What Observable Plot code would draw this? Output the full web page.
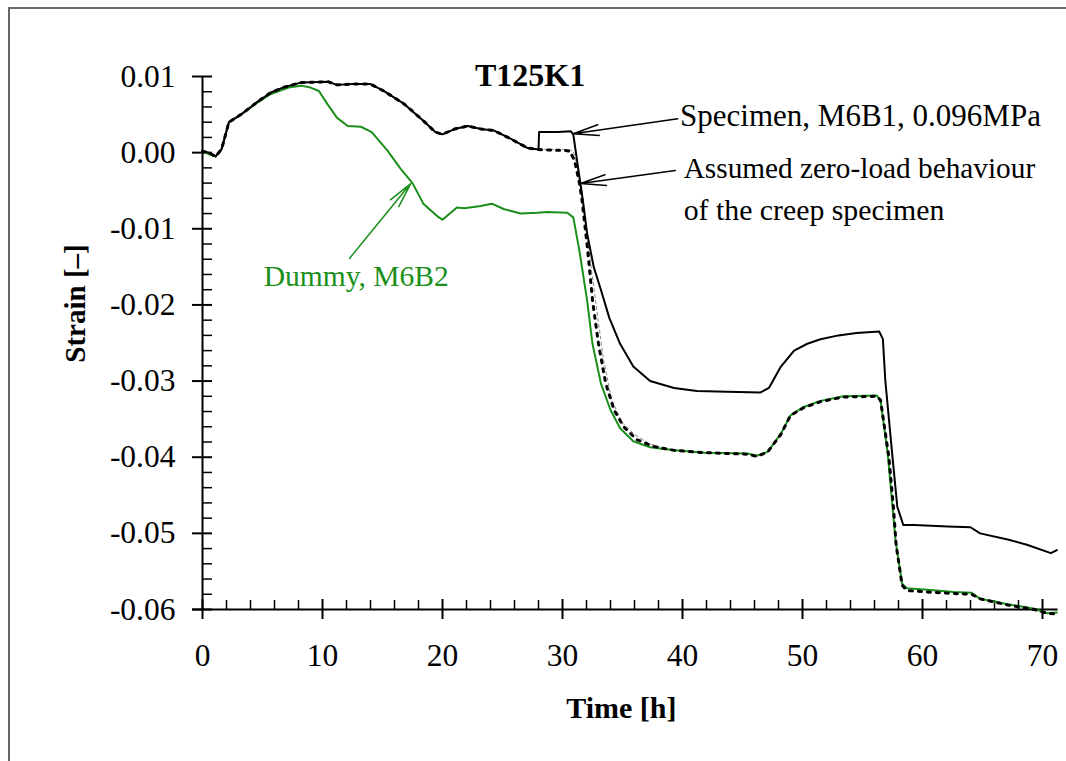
<!DOCTYPE html>
<html>
<head>
<meta charset="utf-8">
<script src="https://cdn.jsdelivr.net/npm/d3@7"></script>
<script src="https://cdn.jsdelivr.net/npm/@observablehq/plot@0.6"></script>
<style>
  html, body { margin: 0; padding: 0; background: #fff; overflow: hidden; width: 1066px; height: 761px; }
  #wrap { position: relative; width: 1066px; height: 761px; }
  #frameTop { position: absolute; left: 8px; top: 7px; width: 1058px; height: 2px; background: #666; }
  #frameLeft { position: absolute; left: 8px; top: 7px; width: 2px; height: 754px; background: #666; }
  #chart { position: absolute; left: 0; top: 0; }
</style>
</head>
<body>
<div id="wrap"><div id="frameTop"></div><div id="frameLeft"></div><div id="chart"></div></div>
<script>
// ---- Specimen, M6B1 (black solid) ----
const specimenTime = [0,0.5,1.1,1.6,2.2,3.2,4.6,5.7,6.8,8.2,10.5,11.2,12.5,14.0,15.1,16.8,18.4,19.4,20.0,21.0,22.1,23.2,24.3,25.7,27.1,28.0,
  28.05,29.6,30.7,30.9,31.3,31.7,32.05,32.6,33.2,33.9,34.8,35.9,37.3,39.3,41.2,43.7,46.5,47.2,48.2,49.3,50.4,51.5,53.0,54.5,56.4,56.7,56.9,57.5,57.9,58.4,59.3,62.1,64.0,64.8,67.1,68.7,70.7,71.2];
const specimenStrain = [0.0002,0.0000,-0.0005,0.0005,0.0040,0.0050,0.0067,0.0079,0.0086,0.0092,0.0093,0.0089,0.0090,0.0090,0.0081,0.0064,0.0042,0.0027,0.0024,0.0031,0.0035,0.0031,0.0029,0.0018,0.0006,0.0004,
  0.0027,0.0027,0.0028,0.0024,-0.0020,-0.0063,-0.0106,-0.0150,-0.0180,-0.0217,-0.0251,-0.0281,-0.0300,-0.0309,-0.0313,-0.0314,-0.0315,-0.0309,-0.0281,-0.0260,-0.0251,-0.0245,-0.0240,-0.0237,-0.0235,-0.0245,-0.0299,-0.0400,-0.0465,-0.0489,-0.0489,-0.0491,-0.0492,-0.0500,-0.0508,-0.0515,-0.0526,-0.0522];

// ---- Dummy, M6B2 (green solid) ----
const dummyTime = [0,0.5,1.1,1.6,2.2,3.2,4.6,5.7,7.3,8.2,8.9,9.7,10.4,11.2,12.1,13.2,14.1,15.4,16.5,17.5,18.4,19.6,20.0,21.2,21.8,23.2,24.1,25.1,26.5,27.9,28.7,30.4,30.9,31.4,32.05,32.5,33.2,34.0,34.8,35.9,37.3,39.3,41.8,45.4,46.2,47.1,48.2,49.0,50.1,51.5,53.4,56.2,56.5,57.1,57.5,57.75,58.3,58.7,60.4,62.6,64.1,64.8,67.1,69.3,70.4,71.2];
const dummyStrain = [0.0002,-0.0002,-0.0005,0.0005,0.0040,0.0050,0.0066,0.0077,0.0086,0.0088,0.0086,0.0081,0.0064,0.0046,0.0035,0.0034,0.0027,0.0003,-0.0021,-0.0040,-0.0067,-0.0084,-0.0088,-0.0072,-0.0073,-0.0070,-0.0067,-0.0074,-0.0080,-0.0079,-0.0078,-0.0079,-0.0085,-0.0128,-0.0194,-0.0251,-0.0303,-0.0338,-0.0362,-0.0379,-0.0387,-0.0391,-0.0394,-0.0395,-0.0398,-0.0393,-0.0369,-0.0345,-0.0334,-0.0326,-0.0320,-0.0319,-0.0325,-0.0395,-0.0465,-0.0509,-0.0566,-0.0572,-0.0574,-0.0577,-0.0578,-0.0586,-0.0593,-0.0599,-0.0605,-0.0604];

// ---- Assumed zero-load behaviour (black dotted), after load step at 28 h ----
const assumedTime = [28.0,29.5,30.1,30.6,31.0,31.4,31.6,32.1,32.5,33.0,33.6,34.3,35.1,36.2,37.6,39.3,41.8,45.4,46.2,47.1,48.2,49.0,50.1,51.5,53.4,56.2,56.5,57.2,57.6,57.8,58.3,58.7,60.4,62.6,64.1,64.8,67.1,69.3,70.4,71.2];
const assumedStrain = [0.0004,0.0003,0.0003,0.0002,-0.0010,-0.0039,-0.0059,-0.0128,-0.0194,-0.0251,-0.0303,-0.0338,-0.0360,-0.0377,-0.0386,-0.0391,-0.0394,-0.0396,-0.0399,-0.0393,-0.0370,-0.0345,-0.0335,-0.0327,-0.0321,-0.0320,-0.0325,-0.0400,-0.0470,-0.0515,-0.0568,-0.0575,-0.0577,-0.0579,-0.0580,-0.0586,-0.0594,-0.0600,-0.0605,-0.0606];

// ---- thin grey dashed trace, after 28 h ----
const traceTime = [28.0,30.5,30.9,31.4,31.9,32.3,32.8,33.4,34.1,35.0,36.0,37.2,38.7,41.8];
const traceStrain = [0.0004,0.0004,0.0002,-0.0030,-0.0090,-0.0140,-0.0200,-0.0270,-0.0325,-0.0355,-0.0370,-0.0382,-0.0389,-0.0394];

// ---- axes ----
const xTicks = [0,10,20,30,40,50,60,70];
const yTicks = [0.01,0.00,-0.01,-0.02,-0.03,-0.04,-0.05,-0.06];

// ---- annotations ----
const labelText = ["Specimen, M6B1, 0.096MPa","Assumed zero-load behaviour","of the creep specimen","Dummy, M6B2"];
const labelTime = [39.8,40.1,40.1,5.1];
const labelStrain = [0.00485,-0.0021,-0.0076,-0.01625];
const labelColor = ["black","black","black","#1a8f1a"];
const labelSize = [31,29.3,29.8,29.5];
const arrowFromTime = [39.6,39.4,12.25];
const arrowFromStrain = [0.00446,-0.00236,-0.01389];
const arrowToTime = [30.9,31.5,17.35];
const arrowToStrain = [0.00249,-0.00406,-0.00406];
const arrowColor = ["black","black","#1a8f1a"];

const titleText = "T125K1";
const xLabel = "Time [h]";
const yLabel = "Strain [\u2013]";

const GREEN = "#1a8f1a";
const FONT = "'Liberation Serif', 'Times New Roman', serif";

const toRows = (t, v) => t.map((d, i) => ({t: d, v: v[i]}));
const specimen = toRows(specimenTime, specimenStrain);
const dummy = toRows(dummyTime, dummyStrain);
const early = specimen.filter(d => d.t <= 28.0);
const assumed = early.concat(toRows(assumedTime, assumedStrain).slice(1));
const trace = early.concat(toRows(traceTime, traceStrain).slice(1));
const labels = labelText.map((s, i) => ({s, t: labelTime[i], v: labelStrain[i], c: labelColor[i], f: labelSize[i]}));
const arrows = arrowFromTime.map((d, i) => ({x1: d, y1: arrowFromStrain[i], x2: arrowToTime[i], y2: arrowToStrain[i], c: arrowColor[i]}));

const W = 1066, H = 761;
const mL = 202, mR = 8.4, mT = 76, mB = 152;
const xDom = [0, 71.3], yDom = [-0.06, 0.01];
const hPerPx = (xDom[1] - xDom[0]) / (W - mL - mR);
const sPerPx = (yDom[1] - yDom[0]) / (H - mT - mB);

const xMinor = d3.range(2, 71, 2).filter(d => d % 10 !== 0);
const yMinor = d3.range(-29, 5).map(i => i * 0.002).filter(d => Math.abs(Math.round(d * 100) - d * 100) > 1e-6);

const chart = Plot.plot({
  width: W, height: H,
  marginLeft: mL, marginRight: mR, marginTop: mT, marginBottom: mB,
  x: {domain: xDom},
  y: {domain: yDom},
  style: {fontFamily: FONT, fontSize: "31px", background: "transparent", color: "black"},
  marks: [
    // axis lines
    Plot.ruleX([0], {y1: yDom[0], y2: yDom[1], stroke: "black", strokeWidth: 2}),
    Plot.ruleY([yDom[0]], {x1: -10 * hPerPx, x2: xDom[1], stroke: "black", strokeWidth: 2}),
    // y ticks
    Plot.ruleY(yTicks, {x1: -10 * hPerPx, x2: 10 * hPerPx, stroke: "black", strokeWidth: 2}),
    Plot.ruleY(yMinor, {x1: 0, x2: 10 * hPerPx, stroke: "black", strokeWidth: 1.5}),
    // x ticks
    Plot.ruleX(xTicks, {y1: yDom[0] - 10 * sPerPx, y2: yDom[0] + 10 * sPerPx, stroke: "black", strokeWidth: 2}),
    Plot.ruleX(xMinor, {y1: yDom[0], y2: yDom[0] + 9 * sPerPx, stroke: "black", strokeWidth: 1.5}),
    Plot.axisY({ticks: yTicks, tickSize: 0, tickPadding: 27, tickFormat: d => d.toFixed(2), label: null, fontSize: 31.5}),
    Plot.axisX({ticks: xTicks, tickSize: 0, tickPadding: 34, tickFormat: d => String(d), label: null, fontSize: 31.5}),
    // curves
    Plot.line(trace, {x: "t", y: "v", stroke: "#8a8a8a", strokeWidth: 1, strokeDasharray: "3,3"}),
    Plot.line(dummy, {x: "t", y: "v", stroke: GREEN, strokeWidth: 2}),
    Plot.line(specimen, {x: "t", y: "v", stroke: "black", strokeWidth: 2}),
    Plot.line(assumed, {x: "t", y: "v", stroke: "black", strokeWidth: 3, strokeDasharray: "3,6"}),
    // annotations
    Plot.arrow(arrows, {x1: "x1", y1: "y1", x2: "x2", y2: "y2", stroke: "c", strokeWidth: 1.5, headLength: 26, headAngle: 24}),
    Plot.text(labels, {x: "t", y: "v", text: "s", fill: "c", textAnchor: "start", fontSize: "f"}),
    Plot.text([titleText], {x: 27.3, y: 0.0101, text: d => d, fontWeight: "bold", fontSize: 32}),
    Plot.text([yLabel], {x: -127 * hPerPx, y: yDom[1] - (303 - mT) * sPerPx, rotate: -90, text: d => d, fontWeight: "bold", fontSize: 29}),
    Plot.text([xLabel], {frameAnchor: "bottom", dx: -9, dy: 108, text: d => d, fontWeight: "bold", fontSize: 30})
  ]
});
document.getElementById("chart").appendChild(chart);
</script>
</body>
</html>
